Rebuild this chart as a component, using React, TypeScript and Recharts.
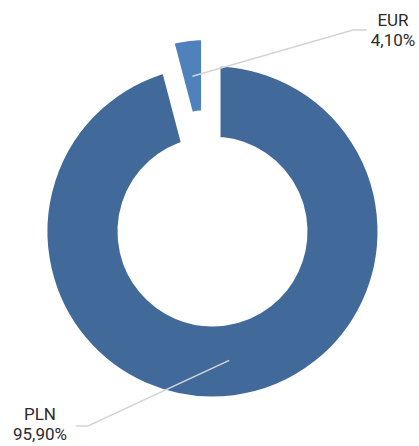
import React from 'react';
import { PieChart, Pie, Cell } from 'recharts';

const categories = ['PLN', 'EUR'];
const shares = [95.9, 4.1];
const colors = ['#416A9B', '#4F81BD'];

const data = categories.map((name, i) => ({ name, value: shares[i] }));

// layout only: where each label's leader bends/ends and where the text sits
const labelLayout: Record<string, { elbow: [number, number]; end: [number, number]; text: [number, number] }> = {
  PLN: { elbow: [88, 426], end: [76, 426], text: [40, 420] },
  EUR: { elbow: [353, 30], end: [367, 30], text: [393, 26] },
};

const CX = 212.5;
const CY = 231.5;
const GAP = 8; // half width of the white gap between slices
const INNER = 95;
const OUTER = 165;
const EXPLODE = 26.6;
const RAD = Math.PI / 180;

const total = shares.reduce((a, b) => a + b, 0);
const eurIdx = 1;
const before = shares.slice(0, eurIdx).reduce((a, b) => a + b, 0);
const eurMid = 90 - (360 * (before + shares[eurIdx] / 2)) / total;
const CX2 = CX + EXPLODE * Math.cos(eurMid * RAD);
const CY2 = CY - EXPLODE * Math.sin(eurMid * RAD);

const fmt = (v: number) => v.toFixed(2).replace('.', ',') + '%';

const renderLabel = (show: number) => (props: any) => {
  if (props.index !== show) return <g key={`none-${props.index}`} />;
  const name = categories[props.index];
  const lay = labelLayout[name];
  const r = (props.innerRadius + props.outerRadius) / 2;
  const sx = props.cx + r * Math.cos(-props.midAngle * RAD);
  const sy = props.cy + r * Math.sin(-props.midAngle * RAD);
  return (
    <g key={`lbl-${name}`}>
      <polyline
        points={`${sx},${sy} ${lay.elbow[0]},${lay.elbow[1]} ${lay.end[0]},${lay.end[1]}`}
        fill="none"
        stroke="#D4D4D4"
        strokeWidth={1.5}
      />
      <text
        x={lay.text[0]}
        y={lay.text[1]}
        textAnchor="middle"
        fontFamily="Roboto, 'Noto Sans', sans-serif"
        fontSize={17}
        fill="#2b2b2b"
      >
        <tspan x={lay.text[0]}>{name}</tspan>
        <tspan x={lay.text[0]} dy={20}>{fmt(shares[props.index])}</tspan>
      </text>
    </g>
  );
};

export default function App() {
  return (
    <div style={{ position: 'absolute', left: 0, top: 0, width: 419, height: 446, background: '#fff' }}>
      <PieChart width={419} height={446} margin={{ top: 0, right: 0, bottom: 0, left: 0 }}>
        <Pie
          data={data}
          dataKey="value"
          nameKey="name"
          cx={CX}
          cy={CY}
          innerRadius={INNER - GAP}
          outerRadius={OUTER + GAP}
          startAngle={90}
          endAngle={-270}
          isAnimationActive={false}
          label={renderLabel(0)}
          labelLine={false}
        >
          {data.map((d, i) => (
            <Cell
              key={d.name}
              fill={i === 0 ? colors[i] : 'none'}
              stroke={i === 0 ? '#fff' : 'none'}
              strokeWidth={GAP * 2}
            />
          ))}
        </Pie>
        <Pie
          data={data}
          dataKey="value"
          nameKey="name"
          cx={CX2}
          cy={CY2}
          innerRadius={INNER - GAP}
          outerRadius={OUTER + GAP}
          startAngle={90}
          endAngle={-270}
          isAnimationActive={false}
          label={renderLabel(eurIdx)}
          labelLine={false}
        >
          {data.map((d, i) => (
            <Cell
              key={d.name}
              fill={i === eurIdx ? colors[i] : 'none'}
              stroke={i === eurIdx ? '#fff' : 'none'}
              strokeWidth={GAP * 2}
            />
          ))}
        </Pie>
      </PieChart>
    </div>
  );
}
